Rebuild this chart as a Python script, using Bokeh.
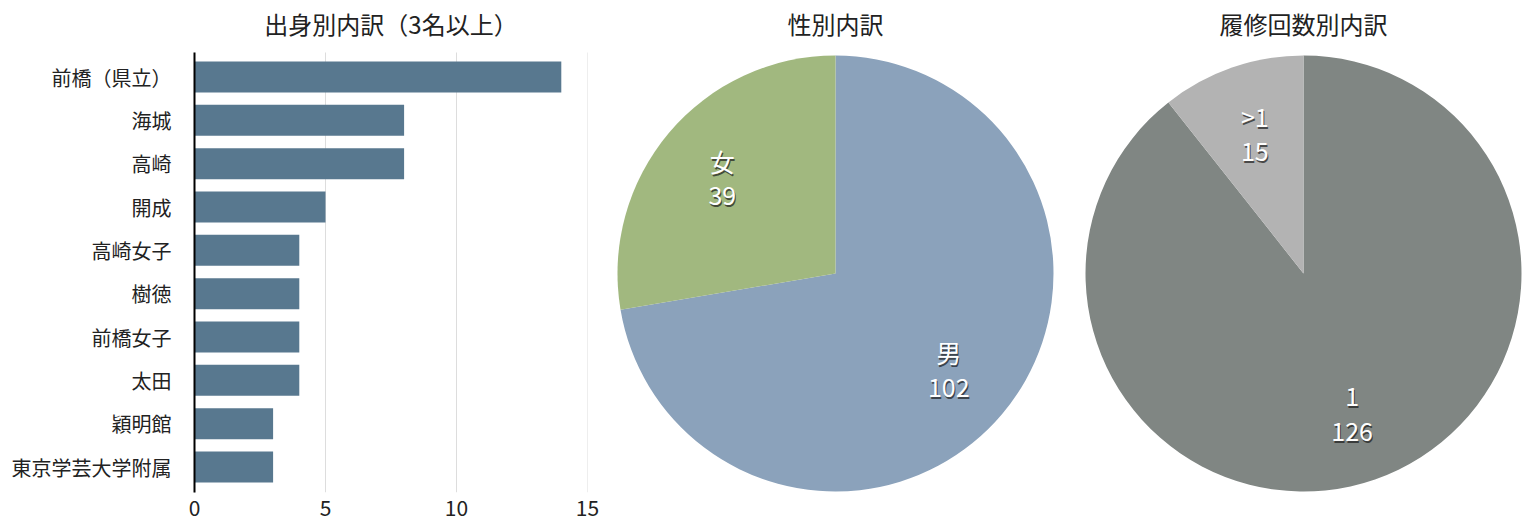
import math
from bokeh.plotting import figure
from bokeh.layouts import row
from bokeh.models import Range1d, FixedTicker, ColumnDataSource
from bokeh.core.properties import value
from bokeh.embed import file_html
from bokeh.resources import INLINE

# ---- data ----
schools = ["前橋（県立）", "海城", "高崎", "開成", "高崎女子", "樹徳", "前橋女子", "太田", "穎明館", "東京学芸大学附属"]
school_counts = [14, 8, 8, 5, 4, 4, 4, 4, 3, 3]
x_ticks = [0, 5, 10, 15]

gender_labels = ["男", "女"]
gender_values = [102, 39]
gender_colors = ["#8BA2BB", "#A1B87F"]

course_labels = ["1", ">1"]
course_values = [126, 15]
course_colors = ["#808683", "#B3B3B3"]

titles = ["出身別内訳（3名以上）", "性別内訳", "履修回数別内訳"]

# ---- layout constants (pixels) ----
FONT = "Noto Sans CJK JP"
TXT = "#222222"
H = 532
BOT = 492          # frame bottom
AXIS_TOP = 52      # top of the bar chart's axis line
TITLE_Y = 22.5     # title centre
ROW_PX = 43.33     # category spacing
LAST_C = 466.5     # centre of last category


def add_title(p, text, x, y):
    p.text(x=[x], y=[y], text=[text], text_align="center", text_baseline="middle",
           text_font=value(FONT), text_font_size="24px", text_color=TXT)


# ---- bar chart ----
n = len(schools)
ypos = [n - 1 - i for i in range(n)]
y_lo = -(BOT - LAST_C) / ROW_PX
y_hi = LAST_C / ROW_PX
p1 = figure(width=612, height=H, output_backend="svg", toolbar_location=None,
            x_range=Range1d(0, 15), y_range=Range1d(y_lo, y_hi),
            min_border_left=194, min_border_right=25,
            min_border_top=0, min_border_bottom=H - BOT)
p1.outline_line_color = None
p1.grid.visible = False
grid_top = (LAST_C - AXIS_TOP) / ROW_PX
p1.segment(x0=x_ticks, x1=x_ticks, y0=[y_lo] * len(x_ticks), y1=[grid_top] * len(x_ticks),
           line_color="#dddddd", line_width=1, level="underlay")
src = ColumnDataSource(dict(y=ypos, count=school_counts))
p1.hbar(y="y", right="count", left=0, height=0.715, source=src,
        fill_color="#58788F", line_color=None)
add_title(p1, titles[0], 7.5, (LAST_C - TITLE_Y) / ROW_PX)

p1.xaxis.ticker = FixedTicker(ticks=x_ticks)
p1.xaxis.axis_line_color = None
p1.xaxis.major_tick_line_color = None
p1.xaxis.minor_tick_line_color = None
p1.xaxis.major_label_text_font = FONT
p1.xaxis.major_label_text_font_size = "21px"
p1.xaxis.major_label_text_color = TXT
p1.xaxis.major_label_standoff = 1

p1.yaxis.ticker = FixedTicker(ticks=ypos)
p1.yaxis.major_label_overrides = {y: s for y, s in zip(ypos, schools)}
p1.yaxis.bounds = (y_lo, grid_top)
p1.yaxis.axis_line_color = "black"
p1.yaxis.axis_line_width = 2
p1.yaxis.major_tick_line_color = None
p1.yaxis.minor_tick_line_color = None
p1.yaxis.major_label_text_font = FONT
p1.yaxis.major_label_text_font_size = "20px"
p1.yaxis.major_label_text_color = TXT
p1.yaxis.major_label_standoff = 17


def make_pie(title, labels, values, colors, width, bl, br, cx_px, x0_px, x1_px):
    R = 218.0
    cy_px = 273.0
    p = figure(width=width, height=H, output_backend="svg", toolbar_location=None,
               x_range=Range1d((x0_px - cx_px) / R, (x1_px - cx_px) / R),
               y_range=Range1d(-(BOT - cy_px) / R, cy_px / R),
               x_axis_type=None, y_axis_type=None,
               min_border_left=bl, min_border_right=br,
               min_border_top=0, min_border_bottom=H - BOT)
    p.outline_line_color = None
    p.grid.visible = False
    total = float(sum(values))
    starts, ends, lx, ly, vals = [], [], [], [], []
    cum = 0.0
    for v in values:
        a0 = cum / total * 2 * math.pi
        cum += v
        a1 = cum / total * 2 * math.pi
        starts.append(math.pi / 2 - a0)
        ends.append(math.pi / 2 - a1)
        mid = (a0 + a1) / 2
        lx.append(0.68 * math.sin(mid))
        ly.append(0.68 * math.cos(mid))
        vals.append(str(v))
    s = ColumnDataSource(dict(start=starts, end=ends, color=colors, lx=lx, ly=ly,
                              name=labels, val=vals))
    p.wedge(x=0, y=0, radius=1, start_angle="start", end_angle="end", direction="clock",
            fill_color="color", line_color=None, source=s)
    for col, dy in (("name", -17), ("val", 18)):
        p.text(x="lx", y="ly", text=col, source=s, x_offset=1, y_offset=dy + 2,
               text_align="center", text_baseline="middle", text_font=value(FONT),
               text_font_size="25px", text_color="#1a1a1a", text_alpha=0.7)
        p.text(x="lx", y="ly", text=col, source=s, y_offset=dy,
               text_align="center", text_baseline="middle", text_font=value(FONT),
               text_font_size="25px", text_color="white")
    add_title(p, title, 0, (cy_px - TITLE_Y) / R)
    return p


p2 = make_pie(titles[1], gender_labels, gender_values, gender_colors,
              450, 0, 4, 835.0, 612.0, 1058.0)
p3 = make_pie(titles[2], course_labels, course_values, course_colors,
              464, 20, 2, 1303.0, 1082.0, 1524.0)

layout = row(p1, p2, p3, spacing=0)
open("out.html", "w").write(file_html(layout, INLINE))
